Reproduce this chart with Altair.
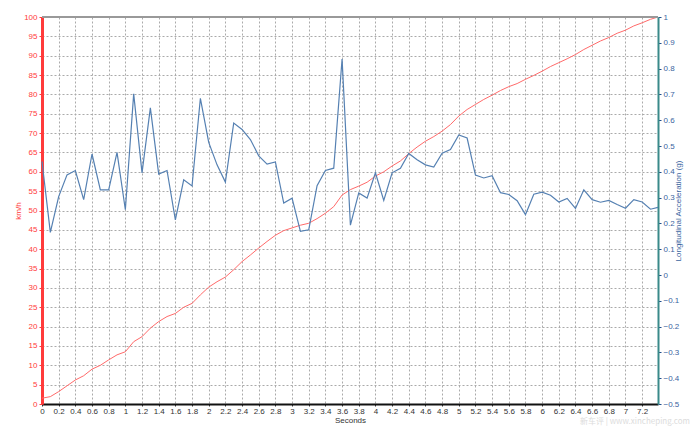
import altair as alt
import pandas as pd

seconds = [0.0, 0.1, 0.2, 0.3, 0.4, 0.5, 0.6, 0.7, 0.8, 0.9,
           1.0, 1.1, 1.2, 1.3, 1.4, 1.5, 1.6, 1.7, 1.8, 1.9,
           2.0, 2.1, 2.2, 2.3, 2.4, 2.5, 2.6, 2.7, 2.8, 2.9,
           3.0, 3.1, 3.2, 3.3, 3.4, 3.5, 3.6, 3.7, 3.8, 3.9,
           4.0, 4.1, 4.2, 4.3, 4.4, 4.5, 4.6, 4.7, 4.8, 4.9,
           5.0, 5.1, 5.2, 5.3, 5.4, 5.5, 5.6, 5.7, 5.8, 5.9,
           6.0, 6.1, 6.2, 6.3, 6.4, 6.5, 6.6, 6.7, 6.8, 6.9,
           7.0, 7.1, 7.2, 7.3, 7.39]

speed_kmh = [1.5, 1.9, 3.2, 4.7, 6.2, 7.3, 9.0, 10.0, 11.4, 12.7,
             13.5, 16.1, 17.4, 19.6, 21.3, 22.6, 23.4, 25.0, 26.0, 28.2,
             30.2, 31.6, 32.8, 34.7, 36.8, 38.5, 40.3, 42.0, 43.6, 44.8,
             45.5, 46.2, 46.7, 47.9, 49.3, 51.0, 54.0, 55.4, 56.3, 57.3,
             58.9, 60.0, 61.5, 62.8, 64.7, 66.4, 67.9, 69.1, 70.5, 72.2,
             74.4, 76.1, 77.4, 78.7, 79.8, 81.0, 82.0, 82.8, 83.9, 84.9,
             86.0, 87.2, 88.2, 89.2, 90.3, 91.6, 92.7, 93.8, 94.7, 95.8,
             96.6, 97.7, 98.5, 99.4, 100.0]

accel_g = [0.440, 0.165, 0.304, 0.388, 0.405, 0.292, 0.469, 0.330, 0.330, 0.475,
           0.253, 0.702, 0.396, 0.648, 0.391, 0.405, 0.214, 0.369, 0.345, 0.685,
           0.514, 0.427, 0.360, 0.589, 0.564, 0.525, 0.462, 0.430, 0.438, 0.279,
           0.298, 0.169, 0.175, 0.346, 0.405, 0.414, 0.837, 0.193, 0.318, 0.298,
           0.396, 0.289, 0.396, 0.414, 0.471, 0.447, 0.427, 0.418, 0.472, 0.486,
           0.543, 0.531, 0.387, 0.376, 0.385, 0.319, 0.312, 0.288, 0.234, 0.313,
           0.321, 0.309, 0.283, 0.297, 0.258, 0.330, 0.292, 0.282, 0.289, 0.273,
           0.259, 0.292, 0.283, 0.255, 0.262]

x_ticks = [0, 0.2, 0.4, 0.6, 0.8, 1, 1.2, 1.4, 1.6, 1.8, 2, 2.2, 2.4, 2.6, 2.8,
           3, 3.2, 3.4, 3.6, 3.8, 4, 4.2, 4.4, 4.6, 4.8, 5, 5.2, 5.4, 5.6, 5.8,
           6, 6.2, 6.4, 6.6, 6.8, 7, 7.2]
left_ticks = [0, 5, 10, 15, 20, 25, 30, 35, 40, 45, 50, 55, 60, 65, 70, 75,
              80, 85, 90, 95, 100]
right_ticks = [-0.5, -0.4, -0.3, -0.2, -0.1, 0, 0.1, 0.2, 0.3, 0.4, 0.5, 0.6,
               0.7, 0.8, 0.9, 1]
watermark = ["新车评 | www.xincheping.com"]

df = pd.DataFrame({"Seconds": seconds, "speed": speed_kmh, "accel": accel_g})
wm = pd.DataFrame({"label": watermark})

FONT = "Liberation Sans"
RED = "#ff3b3b"
BLUE_TXT = "#3a64a0"
W, H = 616, 387

x_enc = alt.X(
    "Seconds:Q",
    scale=alt.Scale(domain=[0, 7.39], nice=False, zero=False),
    axis=alt.Axis(
        values=x_ticks, format="~g", title="Seconds", grid=True,
        gridDash=[2, 2], gridColor="#aaaaaa", gridWidth=1,
        domainColor="#111111", domainWidth=2, tickColor="#333333", tickSize=2,
        labelColor="#333333", labelFontSize=8, labelFont=FONT, labelPadding=1,
        titleFont=FONT, titleFontSize=8, titleFontWeight="normal",
        titleColor="#333333", titlePadding=1, labelFlush=False,
    ),
)

speed = alt.Chart(df).mark_line(color="#ff6a6a", strokeWidth=1).encode(
    x=x_enc,
    y=alt.Y(
        "speed:Q",
        scale=alt.Scale(domain=[0, 100], nice=False),
        axis=alt.Axis(
            orient="left", values=left_ticks, title="km/h", grid=True,
            gridDash=[2, 2], gridColor="#aaaaaa", gridWidth=1,
            domainColor=RED, domainWidth=3, tickColor=RED, tickSize=3,
            labelColor=RED, labelFontSize=8, labelFont=FONT, labelPadding=2,
            titleColor=RED, titleFont=FONT, titleFontSize=8,
            titleFontWeight="normal", titlePadding=1,
        ),
    ),
)

accel = alt.Chart(df).mark_line(color="#5580b2", strokeWidth=1.2).encode(
    x=x_enc,
    y=alt.Y(
        "accel:Q",
        scale=alt.Scale(domain=[-0.5, 1], nice=False, zero=False),
        axis=alt.Axis(
            orient="right", values=right_ticks, format="~g",
            title="Longitudinal Acceleration (g)", grid=False,
            domainColor="#3a8a8a", domainWidth=2, tickColor="#1f4f8f", tickSize=3,
            labelColor=BLUE_TXT, labelFontSize=8, labelFont=FONT, labelPadding=2,
            titleColor=BLUE_TXT, titleFont=FONT, titleFontSize=8,
            titleFontWeight="normal", titleAngle=270, titlePadding=4,
        ),
    ),
)

top_border = alt.Chart(df).mark_rule(color="#999999", strokeWidth=2).encode(
    x=alt.value(0), x2=alt.value(W), y=alt.value(0)
)

wm_text = alt.Chart(wm).mark_text(
    align="right", baseline="alphabetic", font="Noto Sans CJK SC", fontSize=8,
    color="#dcdcdc",
).encode(text="label:N", x=alt.value(W + 32), y=alt.value(H + 20))

chart = alt.layer(speed, accel, top_border, wm_text).resolve_scale(y="independent").properties(
    width=W, height=H,
    autosize=alt.AutoSizeParams(type="none"),
    padding={"left": 34, "top": 9, "right": 34, "bottom": 22},
).configure_view(stroke=None)

chart.save("out.html", embed_options={"renderer": "svg", "actions": False})
